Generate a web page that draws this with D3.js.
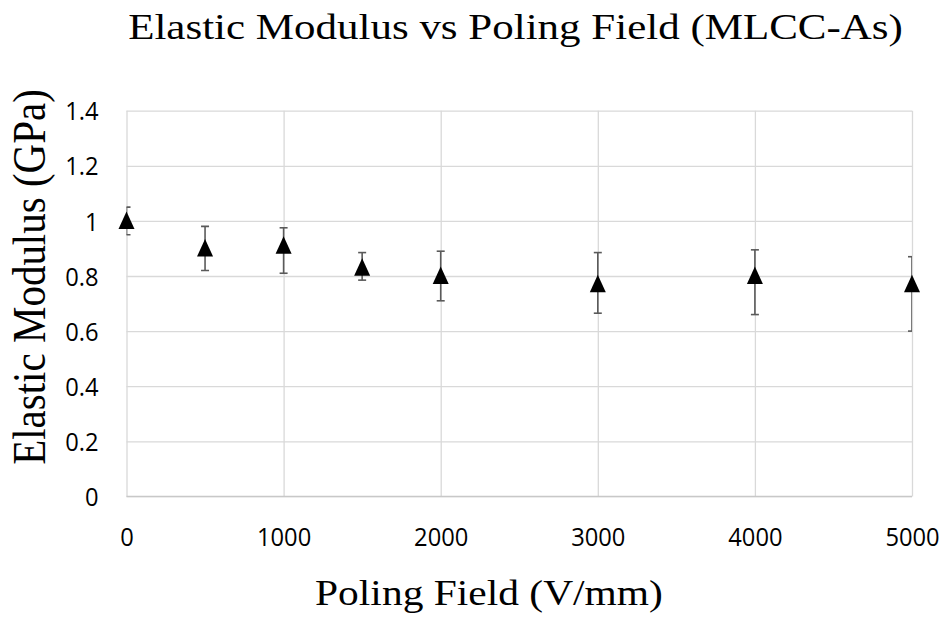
<!DOCTYPE html>
<html>
<head>
<meta charset="utf-8">
<script src="https://cdn.jsdelivr.net/npm/d3@7"></script>
<style>
  html, body { margin: 0; padding: 0; background: #fff; }
  svg { display: block; }
</style>
</head>
<body>
<svg id="chart" width="948" height="618"></svg>
<script>
// Poling field (V/mm) for each measured sample set
const fields = [0, 500, 1000, 1500, 2000, 3000, 4000, 5000];
// Mean elastic modulus (GPa)
const modulus = [1.00, 0.90, 0.91, 0.83, 0.80, 0.77, 0.80, 0.77];
// Error bar extents above / below the mean (GPa)
const errPlus = [0.05, 0.08, 0.065, 0.055, 0.09, 0.115, 0.095, 0.10];
const errMinus = [0.05, 0.08, 0.10, 0.045, 0.09, 0.105, 0.14, 0.17];
// Axis ticks
const xTicks = [0, 1000, 2000, 3000, 4000, 5000];
const yTicks = [0, 0.2, 0.4, 0.6, 0.8, 1.0, 1.2, 1.4];

const svg = d3.select("#chart");
const plot = { left: 126.5, right: 912, top: 110.7, bottom: 496.4 };

const x = d3.scaleLinear().domain([0, 5000]).range([plot.left, plot.right]);
const y = d3.scaleLinear().domain([0, 1.4]).range([plot.bottom, plot.top]);

const serif = "'Liberation Serif', 'Times New Roman', serif";
const sans = "'Open Sans', 'Noto Sans', sans-serif";

// Horizontal gridlines
svg.append("g")
  .attr("transform", `translate(${plot.left},0)`)
  .call(d3.axisLeft(y).tickValues(yTicks).tickSize(-(plot.right - plot.left)).tickFormat(""))
  .call(g => g.select(".domain").remove())
  .call(g => g.selectAll(".tick line").attr("stroke", "#d9d9d9").attr("stroke-width", 1.3));

// Vertical gridlines
svg.append("g")
  .attr("transform", `translate(0,${plot.bottom})`)
  .call(d3.axisBottom(x).tickValues(xTicks).tickSize(-(plot.bottom - plot.top)).tickFormat(""))
  .call(g => g.select(".domain").remove())
  .call(g => g.selectAll(".tick line").attr("stroke", "#d9d9d9").attr("stroke-width", 1.3));

// Baseline
svg.append("line")
  .attr("x1", plot.left).attr("x2", plot.right)
  .attr("y1", y(0)).attr("y2", y(0))
  .attr("stroke", "#c8c8c8").attr("stroke-width", 1.4);

// Y tick labels
svg.append("g")
  .attr("transform", `translate(${plot.left},0)`)
  .call(d3.axisLeft(y).tickValues(yTicks).tickSize(0).tickPadding(28)
    .tickFormat(d => d3.format("~g")(+d.toFixed(1))))
  .call(g => g.select(".domain").remove())
  .call(g => g.selectAll(".tick text")
    .attr("font-family", sans).attr("font-size", 25.5).attr("fill", "#000")
    .attr("dy", "0.36em")
    .attr("transform", "translate(-2,0) scale(0.93,1)"));

// X tick labels
svg.append("g")
  .attr("transform", `translate(0,${plot.bottom})`)
  .call(d3.axisBottom(x).tickValues(xTicks).tickSize(0).tickPadding(0).tickFormat(d3.format("d")))
  .call(g => g.select(".domain").remove())
  .call(g => g.selectAll(".tick text")
    .attr("font-family", sans).attr("font-size", 25.5).attr("fill", "#000")
    .attr("y", 50).attr("dy", 0)
    .attr("transform", "scale(0.93,1)"));

// Error bars, kept inside the plot area
svg.append("clipPath").attr("id", "plot-clip")
  .append("rect")
  .attr("x", plot.left).attr("y", 0)
  .attr("width", plot.right - plot.left).attr("height", 618);

const points = fields.map((f, i) => ({ f, v: modulus[i], hi: modulus[i] + errPlus[i], lo: modulus[i] - errMinus[i] }));

const errG = svg.append("g").attr("clip-path", "url(#plot-clip)")
  .attr("stroke", "#5a5a5a").attr("stroke-width", 1.6);
const capHalf = 4;
errG.selectAll(".stem").data(points).join("line")
  .attr("x1", d => x(d.f)).attr("x2", d => x(d.f))
  .attr("y1", d => y(d.hi)).attr("y2", d => y(d.lo));
errG.selectAll(".cap-hi").data(points).join("line")
  .attr("x1", d => x(d.f) - capHalf).attr("x2", d => x(d.f) + capHalf)
  .attr("y1", d => y(d.hi)).attr("y2", d => y(d.hi));
errG.selectAll(".cap-lo").data(points).join("line")
  .attr("x1", d => x(d.f) - capHalf).attr("x2", d => x(d.f) + capHalf)
  .attr("y1", d => y(d.lo)).attr("y2", d => y(d.lo));

// Triangle markers
svg.append("g").selectAll("path").data(points).join("path")
  .attr("transform", d => `translate(${x(d.f)},${y(d.v)})`)
  .attr("d", "M0,-9.5L8,8L-8,8Z")
  .attr("fill", "#000");

// Text stretched horizontally to a target width, centred on (cx, baseline)
function wideText(str, cx, baseline, size, width) {
  const t = svg.append("text")
    .attr("text-anchor", "middle")
    .attr("font-family", serif).attr("font-size", size)
    .text(str);
  const natural = t.node().getComputedTextLength();
  t.attr("transform", `translate(${cx},${baseline}) scale(${width / natural},1)`);
  return t;
}

// Title
wideText("Elastic Modulus vs Poling Field (MLCC-As)", 515.5, 39, 36.5, 775);

// X axis title
wideText("Poling Field (V/mm)", 489, 605, 35.5, 348);

// Y axis title
svg.append("text")
  .attr("transform", "translate(45,277) scale(1.12,1) rotate(-90)")
  .attr("text-anchor", "middle")
  .attr("font-family", serif).attr("font-size", 41)
  .text("Elastic Modulus (GPa)");
</script>
</body>
</html>
